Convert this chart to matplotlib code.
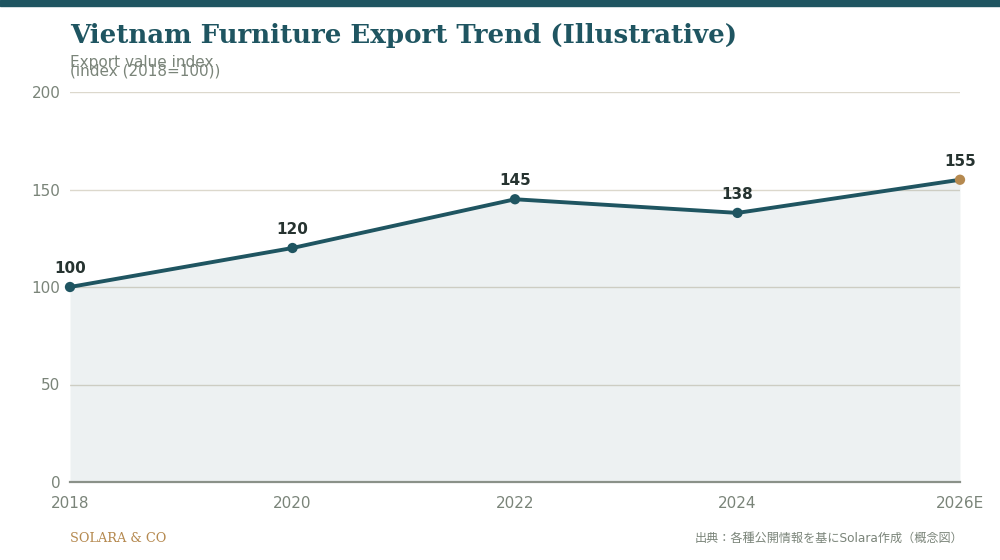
import matplotlib
matplotlib.use("Agg")
import matplotlib.pyplot as plt

plt.rcParams["font.family"] = ["DejaVu Sans"]

years = ["2018", "2020", "2022", "2024", "2026E"]
values = [100, 120, 145, 138, 155]
y_ticks = [0, 50, 100, 150, 200]

title = "Vietnam Furniture Export Trend (Illustrative)"
subtitle1 = "Export value index"
subtitle2 = "(index (2018=100))"
brand = "SOLARA & CO"
source = "出典：各種公開情報を基にSolara作成（概念図）"

TEAL = "#1f5561"
GOLD = "#b5894f"
GRAY = "#7a8479"
DARK = "#263330"

fig = plt.figure(figsize=(10, 5.6), dpi=100)
fig.patches.append(plt.Rectangle((0, 1 - 6 / 560), 1, 6 / 560, transform=fig.transFigure,
                                 color=TEAL, zorder=0))

ax = fig.add_axes([0.07, 1 - 482 / 560, 0.89, 390 / 560])
x = list(range(len(years)))
ax.fill_between(x, values, 0, color=TEAL, alpha=0.08, linewidth=0, zorder=1)
ax.plot(x, values, color=TEAL, linewidth=2.8, zorder=3, clip_on=False)
colors = [TEAL] * (len(values) - 1) + [GOLD]
ax.scatter(x, values, s=55, c=colors, zorder=4, linewidths=0, clip_on=False)
for xi, v in zip(x, values):
    ax.annotate(str(v), (xi, v), xytext=(0, 8), textcoords="offset points",
                ha="center", va="bottom", fontsize=11, fontweight="bold", color=DARK)

ax.set_xlim(0, len(years) - 1)
ax.set_ylim(0, 200)
ax.set_yticks(y_ticks)
ax.set_xticks(x)
ax.set_xticklabels(years)
ax.grid(axis="y", color="#dcd8cc", linewidth=1, zorder=0)
ax.set_axisbelow(True)
for s in ["top", "right", "left"]:
    ax.spines[s].set_visible(False)
ax.spines["bottom"].set_color("#8a9189")
ax.spines["bottom"].set_linewidth(1.6)
ax.tick_params(axis="both", length=0, labelsize=11, labelcolor=GRAY)
ax.tick_params(axis="x", pad=10)
ax.tick_params(axis="y", pad=7)

fig.text(0.07, 1 - 35 / 560, title, fontsize=18.7, fontweight="bold", family="DejaVu Serif",
         color=TEAL, va="center", ha="left")
fig.text(0.07, 1 - 63 / 560, subtitle1, fontsize=11, color=GRAY, va="center", ha="left")
fig.text(0.07, 1 - 71 / 560, subtitle2, fontsize=11, color=GRAY, va="center", ha="left")
fig.text(0.07, 1 - 538 / 560, brand, fontsize=9.3, family="DejaVu Serif", color=GOLD,
         va="center", ha="left")
fig.text(0.963, 1 - 538 / 560, source, fontsize=8.7, family=["DejaVu Sans", "Noto Sans CJK JP"],
         color=GRAY, va="center", ha="right")

fig.savefig("out.png", dpi=100)
